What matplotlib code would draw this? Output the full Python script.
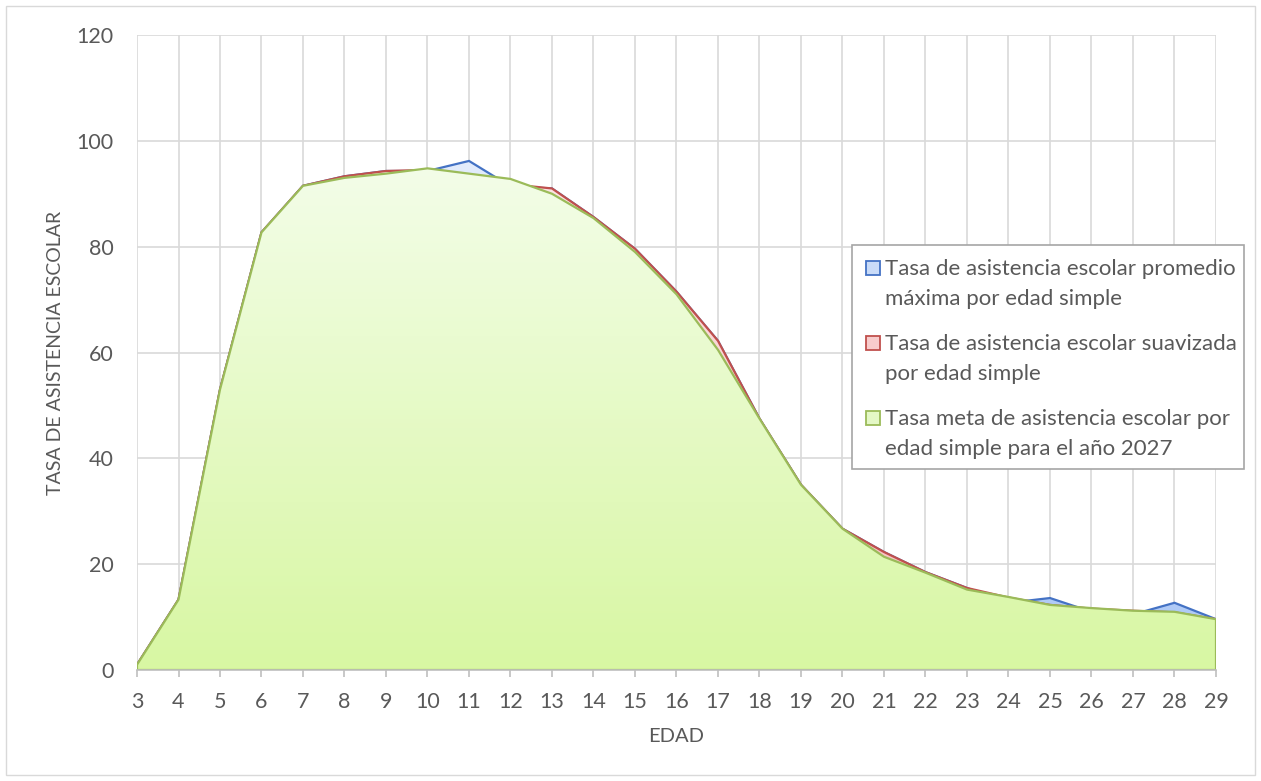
import matplotlib.pyplot as plt
import numpy as np
from matplotlib.colors import LinearSegmentedColormap
from matplotlib.patches import Polygon, Rectangle

plt.rcParams['font.family'] = ['Lato', 'DejaVu Sans']

# --- DATA ---
edad = list(range(3, 30))
tasa_promedio_max = [1.0, 13.3, 53.0, 82.7, 91.5, 93.3, 94.3, 94.3, 96.2, 91.4,
                     91.0, 85.6, 79.6, 71.5, 62.2, 47.5, 35.0, 26.7, 22.3, 18.5,
                     15.5, 12.7, 13.6, 11.0, 10.5, 12.7, 9.6]
tasa_suavizada = [1.0, 13.3, 53.0, 82.7, 91.5, 93.3, 94.3, 94.5, 93.5, 91.8,
                  91.0, 85.6, 79.6, 71.5, 62.2, 47.5, 35.0, 26.7, 22.3, 18.5,
                  15.5, 13.7, 12.3, 11.6, 11.2, 10.9, 9.6]
tasa_meta_2027 = [1.0, 13.3, 53.0, 82.7, 91.5, 93.0, 93.8, 94.8, 93.8, 92.8,
                  90.0, 85.4, 79.0, 71.0, 60.5, 47.5, 35.0, 26.7, 21.4, 18.4,
                  15.2, 13.8, 12.3, 11.7, 11.2, 11.0, 9.6]
labels = [['Tasa de asistencia escolar promedio', 'máxima por edad simple'],
          ['Tasa de asistencia escolar suavizada', 'por edad simple'],
          ['Tasa meta de asistencia escolar por', 'edad simple para el año 2027']]
yticks = [0, 20, 40, 60, 80, 100, 120]

# --- STYLES ---
series = [
    (tasa_promedio_max, '#4472c4', '#e3ecfc', '#a9c6f6', '#c9dbf8'),
    (tasa_suavizada, '#c0504d', '#fde6e6', '#f7bcbc', '#f8cccc'),
    (tasa_meta_2027, '#9bbb59', '#f3fde8', '#d8f7a3', '#e4f8c6'),
]
txt = '#595959'
W, H = 1261, 781


def fx(px):
    return px / W


def fy(py):
    return 1 - py / H


fig = plt.figure(figsize=(W / 100, H / 100), dpi=100)
ax = fig.add_axes([fx(137), fy(670), (1216 - 137) / W, (670 - 35) / H])

# outer chart border
fig.patches.append(Rectangle((fx(6), fy(775)), fx(1255) - fx(6), fy(6) - fy(775),
                             transform=fig.transFigure, fill=False,
                             edgecolor='#d9d9d9', linewidth=1))

for i, (vals, edge, top, bottom, legface) in enumerate(series):
    verts = list(zip(edad, vals)) + [(edad[-1], 0), (edad[0], 0)]
    poly = Polygon(verts, closed=True, facecolor='none', edgecolor=edge,
                   linewidth=1.6, zorder=3 + i * 2 + 1)
    ax.add_patch(poly)
    cmap = LinearSegmentedColormap.from_list('g%d' % i, [bottom, top])
    grad = np.linspace(0, 1, 256).reshape(-1, 1)
    im = ax.imshow(grad, extent=[edad[0], edad[-1], 0, max(vals)], origin='lower',
                   aspect='auto', cmap=cmap, zorder=3 + i * 2)
    im.set_clip_path(poly)

ax.set_xlim(edad[0], edad[-1])
ax.set_ylim(0, 120)
ax.set_xticks(edad)
ax.set_yticks(yticks)
ax.grid(True, color='#d9d9d9', linewidth=1.2, zorder=0)
ax.set_axisbelow(True)
for s in ['top', 'right', 'left']:
    ax.spines[s].set_visible(False)
ax.spines['bottom'].set_color('#bfbfbf')
ax.spines['bottom'].set_linewidth(1.2)
ax.spines['bottom'].set_zorder(20)
ax.tick_params(axis='x', colors='#bfbfbf', labelcolor=txt, labelsize=15.5,
               length=5, width=1.2, pad=11)
ax.tick_params(axis='y', length=0, labelcolor=txt, labelsize=15.5, pad=17)

ax.set_xlabel('EDAD', color=txt, fontsize=14.5, va='center')
ax.xaxis.set_label_coords(0.5, (670 - 737) / 635)
ax.set_ylabel('TASA DE ASISTENCIA ESCOLAR', color=txt, fontsize=14, va='center')
ax.yaxis.set_label_coords((55 - 137) / 1079, 0.5)

# legend box (Excel style: square key next to the first line of each entry)
fig.patches.append(Rectangle((fx(852), fy(469)), fx(1244) - fx(852), fy(245) - fy(469),
                             transform=fig.transFigure, facecolor='white',
                             edgecolor='#a6a6a6', linewidth=1.2, zorder=30))
for i, (vals, edge, top, bottom, legface) in enumerate(series):
    base = 275 + 75 * i
    fig.patches.append(Rectangle((fx(866), fy(base - 0.5)), fx(14), fy(0) - fy(14),
                                 transform=fig.transFigure, facecolor=legface,
                                 edgecolor=edge, linewidth=1.3, zorder=31))
    for j, line in enumerate(labels[i]):
        fig.text(fx(885), fy(base + 30 * j), line, color=txt, fontsize=16,
                 ha='left', va='baseline', zorder=32)

fig.savefig('out.png', dpi=100)
